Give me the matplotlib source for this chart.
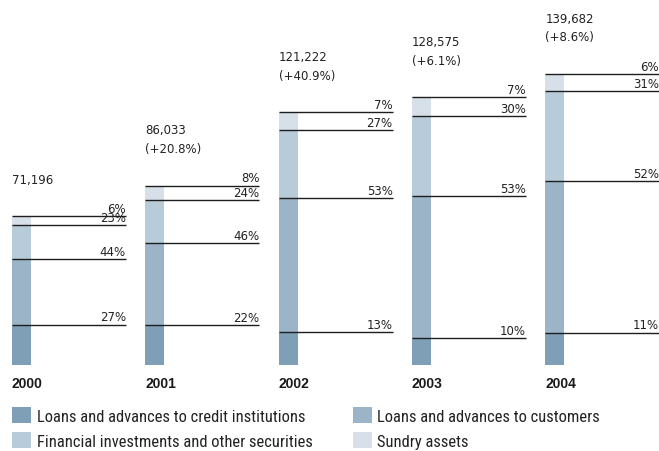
import matplotlib
matplotlib.use("Agg")
import matplotlib.pyplot as plt
from matplotlib import font_manager
from matplotlib.font_manager import FontProperties
import numpy as np

# --- data -----------------------------------------------------------------
years = ["2000", "2001", "2002", "2003", "2004"]
totals = [71196, 86033, 121222, 128575, 139682]          # total assets
share_credit_inst = [27, 22, 13, 10, 11]                  # % loans to credit institutions
share_customers = [44, 46, 53, 53, 52]                    # % loans to customers
share_securities = [23, 24, 27, 30, 31]                   # % financial investments
share_sundry = [6, 8, 7, 7, 6]                            # % sundry assets

series_names = [
    "Loans and advances to credit institutions",
    "Loans and advances to customers",
    "Financial investments and other securities",
    "Sundry assets",
]
series_colors = ["#7e9fb6", "#9cb4c8", "#b8cbd9", "#d7dfe9"]


def pick_narrow_font():
    """Return FontProperties for a condensed sans if one is installed."""
    candidates = [
        ("Liberation Sans Narrow", "normal", ("narrow",)),
        ("Roboto Condensed", "normal", ("condensed",)),
        ("Open Sans Condensed", "normal", ("condensed",)),
        ("DejaVu Sans", "condensed", ("condensed",)),
        ("Open Sans", "condensed", ("condensed",)),
        ("Roboto", "condensed", ("condensed",)),
        ("Noto Sans", "condensed", ("condensed",)),
    ]
    for fam, stretch, keys in candidates:
        fp = FontProperties(family=fam, stretch=stretch)
        try:
            path = font_manager.findfont(fp, fallback_to_default=False)
        except Exception:
            continue
        if any(k in path.lower() for k in keys):
            return FontProperties(fname=path)
    return FontProperties(family="Liberation Sans")


# --- figure ---------------------------------------------------------------
W, H, DPI = 659, 452, 100
fig = plt.figure(figsize=(W / DPI, H / DPI), dpi=DPI)
ax = fig.add_axes([0, 0, 1, 1])
ax.set_axis_off()
num_font = "DejaVu Sans"

px_per_slot = 133.3        # horizontal distance between bars in pixels
left_pad = 12              # pixels left of the first bar
px_per_k = 2.08            # vertical pixels per thousand
base_px = 452 - 365.5      # pixels below the zero line

ax.set_xlim(-left_pad / px_per_slot, (W - left_pad) / px_per_slot)
ax.set_ylim(-base_px / px_per_k, (H - base_px) / px_per_k)

bar_w = 19 / px_per_slot
line_len = 114 / px_per_slot

x = np.arange(len(years))
totals_k = np.array(totals) / 1000.0
shares = np.array([share_credit_inst, share_customers, share_securities, share_sundry], float)
segments = shares / 100.0 * totals_k

bottom = np.zeros(len(years))
handles = []
for seg, sh, name, col in zip(segments, shares, series_names, series_colors):
    bars = ax.bar(x, seg, bottom=bottom, width=bar_w, align="edge",
                  color=col, edgecolor="none", label=name, zorder=2)
    handles.append(bars)
    tops = bottom + seg
    for xi, top, pct in zip(x, tops, sh):
        ax.plot([xi, xi + line_len], [top, top], color="#1e1e1e", lw=1.0,
                solid_capstyle="butt", zorder=3)
        ax.annotate(f"{pct:.0f}%", xy=(xi + line_len, top), xytext=(0, 0.8),
                    textcoords="offset points", ha="right", va="bottom",
                    fontsize=8.5, family=num_font, color="#222222")
    bottom = tops

# totals and year-on-year growth above each bar
for i, (xi, tot) in enumerate(zip(x, totals)):
    label = f"{tot:,}"
    if i > 0:
        growth = (tot / totals[i - 1] - 1) * 100
        label += f"\n(+{growth:.1f}%)"
    ax.annotate(label, xy=(xi, tot / 1000.0), xytext=(0, 22),
                textcoords="offset points", ha="left", va="bottom",
                fontsize=8.5, family=num_font, color="#222222",
                linespacing=1.55)

# year labels beneath the bars
for xi, yr in zip(x, years):
    ax.annotate(yr, xy=(xi, 0), xytext=(0, -8.5), textcoords="offset points",
                ha="left", va="top", fontsize=10, fontweight="bold",
                family="Liberation Sans", color="#1a1a1a")

# legend font: condensed face sized so the longest first-column label spans ~268 px
leg_fp = pick_narrow_font()
renderer = fig.canvas.get_renderer()
probe = fig.text(0, 0, series_names[0], fontproperties=leg_fp, size=13)
w13 = probe.get_window_extent(renderer).width
probe.remove()
leg_size = min(13.0, 13.0 * 268.0 / w13)
leg_fp.set_size(leg_size)
s_px = leg_size * DPI / 72.0

order = [0, 2, 1, 3]
leg = fig.legend([handles[k] for k in order], [series_names[k] for k in order],
                 ncol=2, loc="upper left", bbox_to_anchor=(12 / W, 1 - 408 / H),
                 frameon=False, prop=leg_fp,
                 handlelength=19 / s_px, handleheight=19 / s_px,
                 handletextpad=5.7 / s_px, columnspacing=40 / s_px,
                 labelspacing=8 / s_px, borderpad=0, borderaxespad=0)
for t in leg.get_texts():
    t.set_color("#222222")

fig.savefig("out.png", dpi=DPI)
